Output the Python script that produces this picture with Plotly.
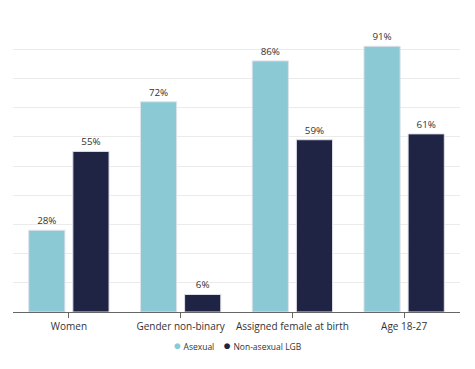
import plotly.graph_objects as go

categories = ["Women", "Gender non-binary", "Assigned female at birth", "Age 18-27"]
asexual = [28, 72, 86, 91]
non_asexual_lgb = [55, 6, 59, 61]
series_names = ["Asexual", "Non-asexual LGB"]
colors = ["#8bcad4", "#1f2344"]
legend_ids = ["legend", "legend2"]

fig = go.Figure()
for name, vals, col, lg in zip(series_names, [asexual, non_asexual_lgb], colors, legend_ids):
    fig.add_trace(go.Bar(
        x=categories, y=vals, name=name,
        marker=dict(color=col, line=dict(color="#dfe2ea", width=1)),
        text=[f"{v}%" for v in vals], textposition="outside",
        textfont=dict(family="Open Sans", size=9.8, color="#333333"),
        cliponaxis=False, showlegend=False,
    ))
    # legend entry: coloured dot glyph + name (symbol itself transparent)
    fig.add_trace(go.Scatter(
        x=[None], y=[None], mode="markers", legend=lg,
        name=f'<span style="color:{col};font-size:13.5px">●</span> {name}',
        marker=dict(color="rgba(0,0,0,0)", size=1),
    ))

legend_style = dict(orientation="h", xref="container", yref="container",
                    xanchor="left", yanchor="middle", y=0.0813,
                    font=dict(size=8.5, color="#333333"), itemwidth=30,
                    bgcolor="rgba(0,0,0,0)")

fig.update_layout(
    width=475, height=369,
    margin=dict(l=5, r=23, t=12, b=65),
    paper_bgcolor="white", plot_bgcolor="white",
    barmode="group", bargap=0.21, bargroupgap=0.18,
    font=dict(family="Open Sans", color="#333333"),
    showlegend=True,
    legend=dict(x=0.2635, **legend_style),
    legend2=dict(x=0.3685, **legend_style),
    xaxis=dict(showline=True, linecolor="#666666", linewidth=1,
               ticks="outside", ticklen=5, tickcolor="#666666", tickangle=0,
               automargin=False,
               tickfont=dict(family="Open Sans", size=10, color="#333333"),
               showgrid=False),
    yaxis=dict(range=[0, 100], dtick=10, showticklabels=False, automargin=False,
               gridcolor="#ebebeb", gridwidth=1, zeroline=False),
)

fig.write_html("out.html")
